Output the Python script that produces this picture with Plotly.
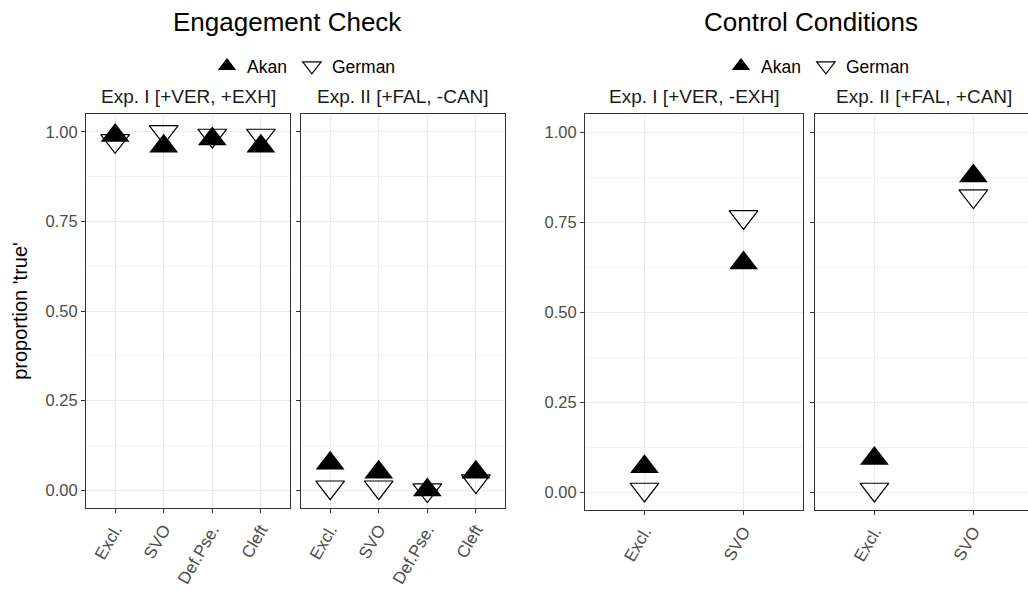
import plotly.graph_objects as go

# ---- data ----
categories_eng = ["Excl.", "SVO", "Def.Pse.", "Cleft"]
categories_ctrl = ["Excl.", "SVO"]

eng_exp1_akan = [0.99, 0.96, 0.98, 0.96]
eng_exp1_german = [0.975, 1.0, 0.99, 0.99]
eng_exp2_akan = [0.075, 0.05, 0.0, 0.05]
eng_exp2_german = [0.008, 0.008, 0.0, 0.025]

ctrl_exp1_akan = [0.07, 0.636]
ctrl_exp1_german = [0.007, 0.764]
ctrl_exp2_akan = [0.093, 0.878]
ctrl_exp2_german = [0.007, 0.822]

strip_labels = ["Exp. I [+VER, +EXH]", "Exp. II [+FAL, -CAN]",
                "Exp. I [+VER, -EXH]", "Exp. II [+FAL, +CAN]"]
group_titles = ["Engagement Check", "Control Conditions"]
y_ticks = [0, 0.25, 0.5, 0.75, 1.0]
y_ticktext = ["0.00", "0.25", "0.50", "0.75", "1.00"]

FONT = "Liberation Sans, Arial, sans-serif"
W, H = 1028, 591
MSIZE = 25

fig = go.Figure()

panels = [
    ("x", "y", categories_eng, eng_exp1_akan, eng_exp1_german, "legend", True),
    ("x2", "y2", categories_eng, eng_exp2_akan, eng_exp2_german, "legend", False),
    ("x3", "y3", categories_ctrl, ctrl_exp1_akan, ctrl_exp1_german, "legend2", True),
    ("x4", "y4", categories_ctrl, ctrl_exp2_akan, ctrl_exp2_german, "legend2", False),
]
for xa, ya, cats, akan, german, leg, show in panels:
    fig.add_trace(go.Scatter(
        x=cats, y=german, mode="markers", name="German", xaxis=xa, yaxis=ya,
        legend=leg, showlegend=show, legendrank=2, cliponaxis=False,
        marker=dict(symbol="triangle-down-open", size=MSIZE, color="black",
                    line=dict(color="black", width=1.2))))
    fig.add_trace(go.Scatter(
        x=cats, y=akan, mode="markers", name="Akan", xaxis=xa, yaxis=ya,
        legend=leg, showlegend=show, legendrank=1, cliponaxis=False,
        marker=dict(symbol="triangle-up", size=MSIZE, color="black",
                    line=dict(color="black", width=0))))

# panel geometry (pixels)
xdoms = [(86, 290), (301, 505), (585, 803), (815, 1033)]
xranges = [[-0.6, 3.6], [-0.6, 3.6], [-0.6, 1.6], [-0.6, 1.552]]
ydoms = [(114, 508), (114, 508), (114, 510), (114, 510)]

axis_common = dict(
    showline=True, mirror=True, linecolor="#333333", linewidth=1,
    ticks="outside", ticklen=4, tickcolor="#333333", tickwidth=1,
    showgrid=True, gridcolor="#EBEBEB", gridwidth=1, zeroline=False,
)

for i in range(4):
    sx = "" if i == 0 else str(i + 1)
    x0, x1 = xdoms[i]
    yt, yb = ydoms[i]
    xa = dict(axis_common)
    xa.update(domain=[x0 / W, min(x1 / W, 1.0)], range=xranges[i],
              type="category", tickangle=-60, anchor="y" + sx,
              tickfont=dict(family=FONT, size=17, color="#4D4D4D"))
    ya = dict(axis_common)
    ya.update(domain=[1 - yb / H, 1 - yt / H], range=[-0.05, 1.05],
              tickvals=y_ticks, ticktext=y_ticktext, anchor="x" + sx,
              showticklabels=(i in (0, 2)),
              tickfont=dict(family=FONT, size=16.5, color="#4D4D4D"),
              minor=dict(tickvals=[0.125, 0.375, 0.625, 0.875], showgrid=True,
                         gridcolor="#F2F2F2", gridwidth=0.6, ticks=""))
    if i == 0:
        ya.update(title=dict(text="proportion 'true'", standoff=12,
                             font=dict(family=FONT, size=20, color="black")))
    fig.layout["xaxis" + sx] = xa
    fig.layout["yaxis" + sx] = ya

annotations = []
for i, lab in enumerate(strip_labels):
    x0, x1 = xdoms[i]
    cx = (x0 + x1) / 2
    annotations.append(dict(text=lab, x=cx / W, y=1 - 96 / H, xref="paper", yref="paper",
                            showarrow=False, xanchor="center", yanchor="middle",
                            font=dict(family=FONT, size=19, color="#1A1A1A")))
for cx, t in zip([287, 811], group_titles):
    annotations.append(dict(text=t, x=cx / W, y=1 - 22 / H, xref="paper", yref="paper",
                            showarrow=False, xanchor="center", yanchor="middle",
                            font=dict(family=FONT, size=26, color="black")))

legend_style = dict(orientation="h", yanchor="middle", xanchor="center",
                    bgcolor="rgba(0,0,0,0)", font=dict(family=FONT, size=17.5, color="black"),
                    itemsizing="trace", traceorder="normal")
fig.update_layout(
    width=W, height=H,
    margin=dict(l=0, r=0, t=0, b=0),
    paper_bgcolor="white", plot_bgcolor="white",
    font=dict(family=FONT),
    annotations=annotations,
    legend=dict(x=304 / W, y=1 - 66 / H, **legend_style),
    legend2=dict(x=818 / W, y=1 - 66 / H, **legend_style),
)

fig.write_html("out.html")
